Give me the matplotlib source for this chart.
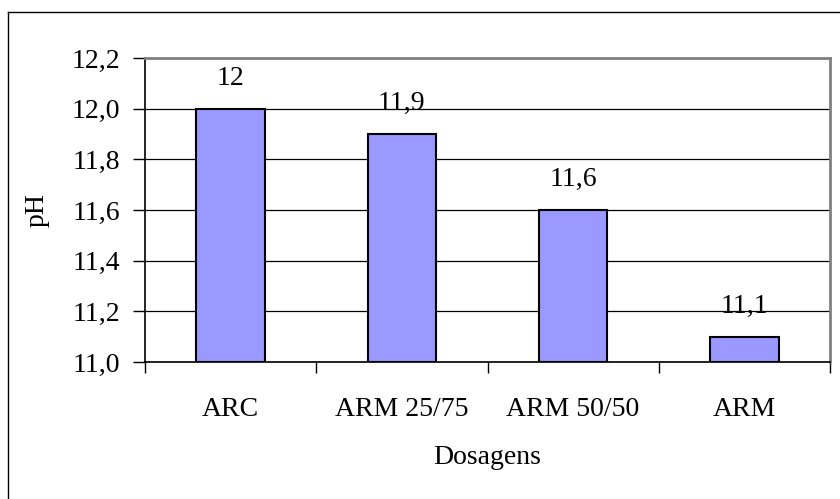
import matplotlib
matplotlib.use("Agg")
import matplotlib.pyplot as plt
from matplotlib.lines import Line2D
from matplotlib.ticker import FixedLocator

categories = ["ARC", "ARM 25/75", "ARM 50/50", "ARM"]
ph_values = [12.0, 11.9, 11.6, 11.1]
value_labels = ["12", "11,9", "11,6", "11,1"]
y_ticks = [11.0, 11.2, 11.4, 11.6, 11.8, 12.0, 12.2]
y_tick_labels = ["11,0", "11,2", "11,4", "11,6", "11,8", "12,0", "12,2"]

plt.rcParams['font.family'] = ['Liberation Serif', 'DejaVu Serif']
FS = 20

W, H = 840, 499
fig = plt.figure(figsize=(W / 100, H / 100), dpi=100)
fig.patch.set_facecolor('white')

# outer chart border (left and top visible; right/bottom cropped)
fig.add_artist(Line2D([8 / W, 8 / W], [0, 1 - 12 / H], transform=fig.transFigure, color='black', lw=1.0))
fig.add_artist(Line2D([8 / W, 1], [1 - 12 / H, 1 - 12 / H], transform=fig.transFigure, color='black', lw=1.0))

left, right, top, bottom = 145, 830, 58, 362
ax = fig.add_axes([left / W, 1 - bottom / H, (right - left) / W, (bottom - top) / H])

x = list(range(len(categories)))
ax.bar(x, [v - 11.0 for v in ph_values], bottom=11.0, width=0.4,
       color='#9999FF', edgecolor='black', linewidth=1.5, zorder=3)

for xi, v, lab in zip(x, ph_values, value_labels):
    ax.text(xi, v + 0.07, lab, ha='center', va='bottom', fontsize=FS, zorder=4)

ax.set_xlim(-0.5, len(categories) - 0.5)
ax.set_ylim(11.0, 12.2)
ax.set_yticks(y_ticks)
ax.set_yticklabels(y_tick_labels, fontsize=FS)
ax.yaxis.grid(True, color='black', linewidth=0.9, zorder=0)
ax.set_axisbelow(True)

ax.set_xticks(x)
ax.set_xticklabels(categories, fontsize=FS)
ax.tick_params(axis='x', which='major', length=0, pad=25)
ax.xaxis.set_minor_locator(FixedLocator([-0.5, 0.5, 1.5, 2.5, 3.5]))
ax.tick_params(axis='x', which='minor', length=8, width=1, direction='out', color='black')
ax.tick_params(axis='y', length=9, width=1, direction='out', pad=9)

for s in ['top', 'right']:
    ax.spines[s].set_color('#808080')
    ax.spines[s].set_linewidth(2)
ax.spines['left'].set_linewidth(1.2)
ax.spines['bottom'].set_linewidth(1.2)

ax.set_ylabel('pH', fontsize=FS)
ax.yaxis.set_label_coords((50 - left) / (right - left), 0.5)
ax.set_xlabel('Dosagens', fontsize=FS)
ax.xaxis.set_label_coords(0.5, -(458 - bottom) / (bottom - top))
ax.xaxis.label.set_va('center')

fig.savefig('out.png', dpi=100)
